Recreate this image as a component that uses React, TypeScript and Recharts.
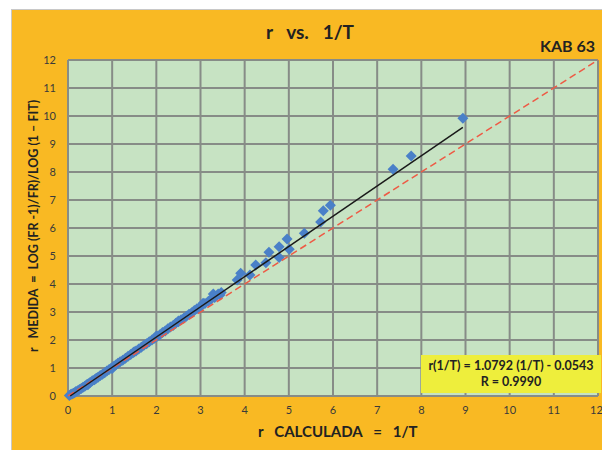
import {
  ScatterChart,
  Scatter,
  XAxis,
  YAxis,
  CartesianGrid,
} from 'recharts';

// dense group of measurements below r = 3.5
const lowX = [
  0.03, 0.06, 0.09, 0.12, 0.15, 0.18, 0.22, 0.26, 0.3, 0.34, 0.38, 0.42, 0.45, 0.46, 0.5, 0.55,
  0.6, 0.64, 0.68, 0.73, 0.78, 0.83, 0.88, 0.93, 0.98, 1.0, 1.03, 1.08, 1.13, 1.18, 1.24, 1.3,
  1.36, 1.42, 1.48, 1.5, 1.54, 1.6, 1.66, 1.72, 1.78, 1.84, 1.9, 1.96, 2.0, 2.02, 2.08, 2.14,
  2.2, 2.26, 2.32, 2.38, 2.44, 2.5, 2.5, 2.56, 2.62, 2.68, 2.74, 2.8, 2.86, 2.92, 2.98, 3.04,
  3.06, 3.1, 3.18, 3.25, 3.29, 3.32, 3.4, 3.44, 3.47,
];
const lowY = [
  0.02, 0.05, 0.07, 0.1, 0.12, 0.16, 0.19, 0.23, 0.27, 0.31, 0.35, 0.4, 0.4, 0.44, 0.48, 0.54,
  0.58, 0.63, 0.67, 0.73, 0.78, 0.83, 0.89, 0.95, 1.0, 0.98, 1.05, 1.11, 1.17, 1.22, 1.28, 1.35,
  1.42, 1.48, 1.55, 1.58, 1.61, 1.68, 1.74, 1.81, 1.87, 1.94, 2.0, 2.06, 2.14, 2.13, 2.19, 2.27,
  2.32, 2.4, 2.46, 2.52, 2.6, 2.65, 2.68, 2.72, 2.78, 2.85, 2.92, 2.97, 3.05, 3.12, 3.16, 3.26,
  3.31, 3.3, 3.38, 3.47, 3.64, 3.52, 3.64, 3.61, 3.7,
];

// scattered measurements above r = 3.5
const highX = [3.83, 3.91, 4.12, 4.25, 4.48, 4.55, 4.78, 4.78, 4.96, 5.01, 5.35, 5.72, 5.78, 5.94, 7.36, 7.77, 8.94];
const highY = [4.14, 4.38, 4.32, 4.68, 4.76, 5.13, 5.33, 4.95, 5.61, 5.24, 5.81, 6.21, 6.62, 6.81, 8.1, 8.57, 9.92];

// least-squares fit
const slope = 1.0792;
const intercept = -0.0543;
const fitRange = [0.05, 8.94];
const identityRange = [0, 12];

const axisTicks = [0, 1, 2, 3, 4, 5, 6, 7, 8, 9, 10, 11, 12];

const allY = [...lowY, ...highY];
const points = [...lowX, ...highX].map((x, i) => ({ x, y: allY[i] }));
const fitLine = fitRange.map((x) => ({ x, y: slope * x + intercept }));
const identityLine = identityRange.map((x) => ({ x, y: x }));

const font = 'Lato, "Open Sans", sans-serif';

const Nothing = () => <g />;

// square marker turned 45 degrees
const Diamond = (p: any) => {
  const r = 5.5;
  return (
    <polygon
      points={`${p.cx},${p.cy - r} ${p.cx + r},${p.cy} ${p.cx},${p.cy + r} ${p.cx - r},${p.cy}`}
      fill="#4A80C8"
    />
  );
};

export default function App() {
  return (
    <div style={{ position: 'absolute', left: 0, top: 0, width: 602, height: 450, background: '#fff', overflow: 'hidden', fontFamily: font }}>
      <div
        style={{
          position: 'absolute',
          left: 11,
          top: 9,
          width: 600,
          height: 450,
          background: '#F9B923',
          borderLeft: '1px solid #c8c8c8',
          borderTop: '1px solid #c8c8c8',
        }}
      />
      <div style={{ position: 'absolute', left: 0, top: 0 }}>
        <ScatterChart width={602} height={450} margin={{ top: 60, right: 4, bottom: 24, left: 38 }}>
          <CartesianGrid fill="#C7E3C3" stroke="#878C87" strokeWidth={2} />
          <XAxis
            type="number"
            dataKey="x"
            domain={[0, 12]}
            ticks={axisTicks}
            height={30}
            axisLine={false}
            tickLine={false}
            tickMargin={4}
            tick={{ fontSize: 11, fill: '#3a3a3a', fontFamily: font }}
          />
          <YAxis
            type="number"
            dataKey="y"
            domain={[0, 12]}
            ticks={axisTicks}
            width={30}
            axisLine={false}
            tickLine={false}
            tickMargin={6}
            tick={{ fontSize: 11, fill: '#3a3a3a', fontFamily: font }}
          />
          <Scatter data={points} shape={Diamond} isAnimationActive={false} />
          <Scatter
            data={identityLine}
            line={{ stroke: '#EE5A45', strokeWidth: 1.5, strokeDasharray: '7 4' }}
            shape={Nothing}
            isAnimationActive={false}
          />
          <Scatter
            data={fitLine}
            line={{ stroke: '#1a1a1a', strokeWidth: 1.5 }}
            shape={Nothing}
            isAnimationActive={false}
          />
        </ScatterChart>
      </div>

      <div style={{ position: 'absolute', left: 0, width: 602, top: 20, textAlign: 'center', paddingLeft: 18, boxSizing: 'border-box', fontSize: 19, fontWeight: 'bold', color: '#222', whiteSpace: 'pre' }}>
        {'r   vs.   1/T'}
      </div>
      <div style={{ position: 'absolute', left: 540, top: 36, fontSize: 16, fontWeight: 'bold', color: '#222' }}>KAB 63</div>

      <div
        style={{
          position: 'absolute',
          left: 258,
          top: 422,
          fontSize: 15,
          fontWeight: 'bold',
          color: '#222',
          whiteSpace: 'pre',
        }}
      >
        {'r   CALCULADA   =   1/T'}
      </div>
      <div
        style={{
          position: 'absolute',
          left: 33,
          top: 226,
          transform: 'translate(-50%, -50%) rotate(-90deg)',
          fontSize: 12.5,
          fontWeight: 'bold',
          color: '#222',
          whiteSpace: 'pre',
        }}
      >
        {'r   MEDIDA  =  LOG (FR -1)/FR)/LOG (1 – FIT)'}
      </div>

      <div
        style={{
          position: 'absolute',
          left: 421,
          top: 355,
          width: 180,
          height: 38,
          background: '#EEEE3C',
          textAlign: 'center',
          fontSize: 12.5,
          fontWeight: 'bold',
          color: '#222',
          lineHeight: '16px',
          paddingTop: 3,
          boxSizing: 'border-box',
          whiteSpace: 'pre',
        }}
      >
        <div>r(1/T) = 1.0792 (1/T) - 0.0543</div>
        <div>R = 0.9990</div>
      </div>
    </div>
  );
}
